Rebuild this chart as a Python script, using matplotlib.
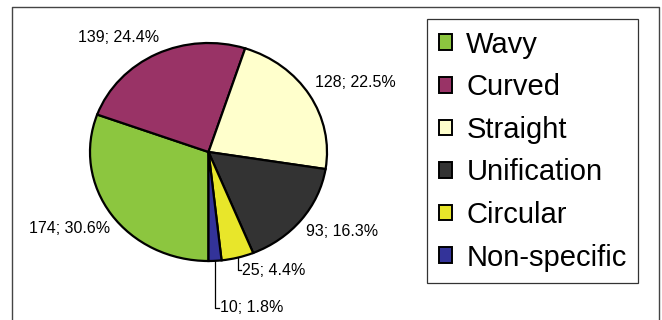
import numpy as np
import matplotlib
matplotlib.use('Agg')
import matplotlib.pyplot as plt
from matplotlib.lines import Line2D

# data
categories = ['Wavy', 'Curved', 'Straight', 'Unification', 'Circular', 'Non-specific']
counts = [174, 139, 128, 93, 25, 10]
percents = [30.6, 24.4, 22.5, 16.3, 4.4, 1.8]
colors = ['#8cc63f', '#993366', '#ffffcc', '#333333', '#e8e62a', '#333399']

plt.rcParams['font.family'] = ['Liberation Sans', 'DejaVu Sans']

W, H = 662, 320
fig = plt.figure(figsize=(W / 100, H / 100), dpi=100, facecolor='white')

# pie is drawn a little wider than tall, as in the source
cx, cy, rx, ry = 208.5, 152, 118.5, 109
ax = fig.add_axes([(cx - rx) / W, (H - cy - ry) / H, 2 * rx / W, 2 * ry / H])
wedges, _ = ax.pie(counts, colors=colors, startangle=270, counterclock=False,
                   wedgeprops=dict(edgecolor='black', linewidth=1.6))
ax.set_aspect('auto')
ax.set_xlim(-1, 1)
ax.set_ylim(-1, 1)
ax.axis('off')

labels = ['%d; %.1f%%' % (c, p) for c, p in zip(counts, percents)]

# label anchors (data coords) for the four large slices
big_pos = [(-1.17, -0.70), (-0.76, 1.05), (1.24, 0.64), (1.13, -0.73)]
for i in range(4):
    ax.text(big_pos[i][0], big_pos[i][1], labels[i], ha='center', va='center',
            fontsize=11.5)

# small slices with leader lines
small_text = {4: (0.283, -1.083), 5: (0.097, -1.431)}
for i, (tx, ty) in small_text.items():
    w = wedges[i]
    mid = np.deg2rad((w.theta1 + w.theta2) / 2)
    ex, ey = np.cos(mid), np.sin(mid)
    ax.plot([ex, ex, tx - 0.01], [ey, ty, ty], color='black', lw=0.9,
            clip_on=False)
    ax.text(tx, ty, labels[i], ha='left', va='center', fontsize=11.5)

# legend
handles = [plt.Rectangle((0, 0), 1, 1, facecolor=c, edgecolor='black', lw=1.4)
           for c in colors]
leg = fig.legend(handles, categories, loc='upper left',
                 bbox_to_anchor=(427 / W, 1 - 19 / H), borderaxespad=0,
                 fontsize=21, frameon=True, fancybox=False,
                 handlelength=0.45, handleheight=0.45, handletextpad=0.5,
                 labelspacing=0.5, borderpad=0.4)
leg.get_frame().set_edgecolor('black')
leg.get_frame().set_linewidth(0.9)

# outer frame
fx = lambda x: x / W
fy = lambda y: 1 - y / H
fig.add_artist(Line2D([fx(12), fx(12), fx(659), fx(659)],
                      [0, fy(7), fy(7), 0], color='#444444', lw=1.0))

fig.savefig('out.png', dpi=100, facecolor='white')
